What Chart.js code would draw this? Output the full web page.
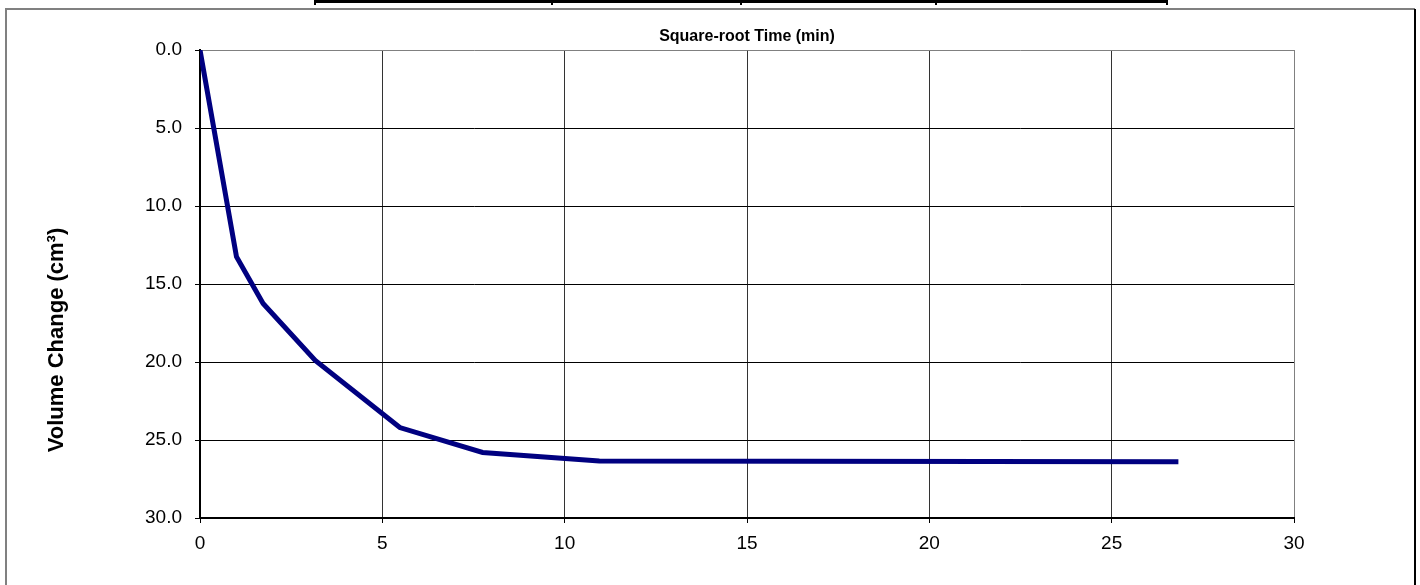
<!DOCTYPE html>
<html>
<head>
<meta charset="utf-8">
<script src="https://cdn.jsdelivr.net/npm/chart.js@4/dist/chart.umd.min.js"></script>
<style>
  html, body { margin: 0; padding: 0; background: #fff; }
  #wrap { width: 1420px; height: 585px; }
</style>
</head>
<body>
<div id="wrap"><canvas id="volChart" width="1420" height="585"></canvas></div>
<script>
const sqrtTime = [0, 1.0, 1.73, 3.16, 5.48, 7.75, 10.95, 26.83];
const volumeChange = [0, 13.25, 16.25, 19.9, 24.2, 25.8, 26.35, 26.4];
const xTicks = [0, 5, 10, 15, 20, 25, 30];
const yTicks = [0, 5, 10, 15, 20, 25, 30];

const xTitle = 'Square-root Time (min)';
const yTitle = 'Volume Change (cm³)';

const points = sqrtTime.map((t, i) => ({ x: t, y: volumeChange[i] }));

// frame of the chart area and the table edge above it
const framePlugin = {
  id: 'frame',
  afterLayout(chart) {
    // the axis title sits centred on the whole (cut off) chart box, not the plot
    const s = chart.scales.yLabel;
    s.top = 95;
    s.bottom = 585;
  },
  beforeDraw(chart) {
    const c = chart.ctx;
    c.save();
    c.fillStyle = '#fff';
    c.fillRect(0, 0, chart.width, chart.height);
    // table bottom edge
    c.strokeStyle = '#000';
    c.lineWidth = 3;
    c.beginPath();
    c.moveTo(315, 1.5); c.lineTo(1167, 1.5);
    c.stroke();
    c.lineWidth = 2;
    [315, 552, 741, 936, 1167].forEach(x => {
      c.beginPath(); c.moveTo(x, 0); c.lineTo(x, 5); c.stroke();
    });
    // chart box
    c.lineWidth = 2;
    c.strokeStyle = '#808080';
    c.beginPath();
    c.moveTo(6, 585); c.lineTo(6, 9); c.lineTo(1415, 9);
    c.stroke();
    c.strokeStyle = '#000';
    c.beginPath();
    c.moveTo(1415, 9); c.lineTo(1415, 585);
    c.stroke();
    c.restore();
  }
};

new Chart(document.getElementById('volChart'), {
  type: 'line',
  data: {
    datasets: [{
      data: points,
      xAxisID: 'x',
      yAxisID: 'y',
      borderColor: '#000080',
      borderWidth: 5,
      pointRadius: 0,
      tension: 0,
      fill: false
    }]
  },
  options: {
    responsive: false,
    animation: false,
    layout: { padding: { left: 6, right: 126, top: 10, bottom: 0 } },
    plugins: { legend: { display: false }, tooltip: { enabled: false } },
    scales: {
      x: {
        type: 'linear',
        position: 'bottom',
        min: 0, max: 30,
        afterBuildTicks: s => { s.ticks = xTicks.map(v => ({ value: v })); },
        afterFit: s => { s.height = 67; },
        ticks: { color: '#000', font: { family: 'Liberation Sans', size: 19 }, padding: 9, maxRotation: 0 },
        grid: {
          color: ctx => (ctx.tick && ctx.tick.value === 30) ? '#808080' : '#333',
          tickColor: '#000',
          tickLength: 5,
          lineWidth: 1
        },
        border: { color: '#000', width: 2 }
      },
      xTop: {
        type: 'linear',
        position: 'top',
        min: 0, max: 30,
        afterFit: s => { s.height = 40; },
        ticks: { display: false },
        grid: { display: false },
        border: { display: false },
        title: {
          display: true,
          text: xTitle,
          color: '#000',
          font: { family: 'Liberation Sans', size: 16, weight: 'bold' },
          padding: { top: 17, bottom: 0 }
        }
      },
      yLabel: {
        type: 'linear',
        position: 'left',
        weight: 1,
        min: 0, max: 1,
        afterFit: s => { s.width = 90; },
        ticks: { display: false },
        grid: { display: false },
        border: { display: false },
        title: {
          display: true,
          text: yTitle,
          color: '#000',
          font: { family: 'Liberation Sans', size: 22, weight: 'bold' },
          padding: { top: 38, bottom: 0 }
        }
      },
      y: {
        type: 'linear',
        position: 'left',
        weight: 0,
        reverse: true,
        min: 0, max: 30,
        afterBuildTicks: s => { s.ticks = yTicks.map(v => ({ value: v })); },
        afterFit: s => { s.width = 104; },
        ticks: {
          color: '#000',
          font: { family: 'Liberation Sans', size: 19 },
          padding: 13,
          callback: v => Number(v).toFixed(1)
        },
        grid: {
          color: ctx => (ctx.tick && ctx.tick.value === 0) ? '#808080' : '#000',
          tickColor: '#000',
          tickLength: 5,
          lineWidth: 1
        },
        border: { color: '#000', width: 2 }
      }
    }
  },
  plugins: [framePlugin]
});
</script>
</body>
</html>
